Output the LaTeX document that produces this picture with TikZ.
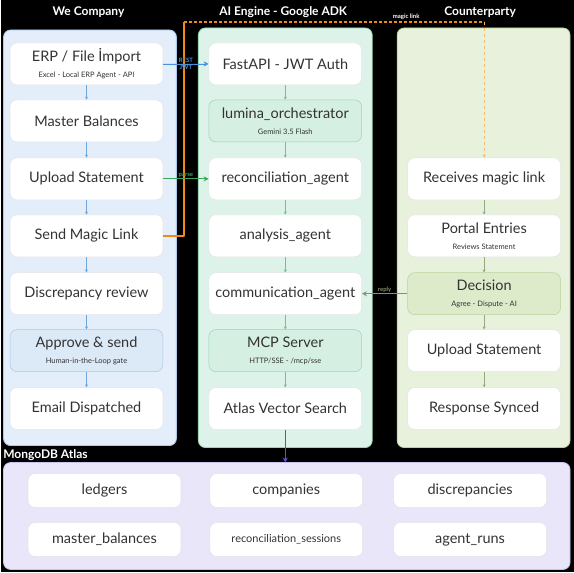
\documentclass[tikz,border=0pt]{standalone}
\usepackage{fontspec}
\setmainfont{Lato}
\usetikzlibrary{positioning,arrows.meta}

\definecolor{bluelane}{HTML}{E3EEFA}
\definecolor{blueedge}{HTML}{A9C8EA}
\definecolor{bluebox}{HTML}{DCE9F7}
\definecolor{greenlane}{HTML}{DDF2E8}
\definecolor{greenedge}{HTML}{9BD3B5}
\definecolor{greenbox}{HTML}{D5EFE2}
\definecolor{limelane}{HTML}{E8F1DB}
\definecolor{limeedge}{HTML}{B9D39C}
\definecolor{limebox}{HTML}{DDEBCB}
\definecolor{lilaclane}{HTML}{E8E6F8}
\definecolor{lilacedge}{HTML}{C9C4EE}
\definecolor{linkorange}{HTML}{F08A10}
\definecolor{apiblue}{HTML}{4A90D9}
\definecolor{apigreen}{HTML}{3BA55C}
\definecolor{dbpurple}{HTML}{6A4BD8}

\newcommand{\subline}[1]{\\[0pt]{\fontsize{7.5}{9}\selectfont #1}}

\begin{document}
\begin{tikzpicture}[x=1pt,y=-1pt,
  lane/.style={rounded corners=7pt, line width=0.8pt},
  box/.style={draw=#1, fill=white, rounded corners=7pt, line width=0.5pt,
    minimum width=153pt, minimum height=42pt, align=center,
    font=\fontsize{14.5}{16}\selectfont, text=black!80},
  box/.default=gray!20,
  dbbox/.style={box, minimum width=153pt, minimum height=34pt},
  lanetitle/.style={text=white, font=\bfseries\fontsize{12}{13}\selectfont},
  tinylabel/.style={font=\bfseries\fontsize{6}{7}\selectfont, inner sep=1pt},
  flow/.style={-{Stealth[length=3pt,width=3pt]}, line width=0.4pt, draw=#1},
  link/.style={-{Stealth[length=5pt,width=5pt]}, line width=1.4pt, draw=#1, fill=#1},
  magic/.style={draw=linkorange, line width=2pt, line join=round},
  ]
  % background and lanes
  \fill[black] (0,0) rectangle (574,573);
  \filldraw[lane, fill=bluelane, draw=blueedge] (3,30) rectangle (176,446);
  \filldraw[lane, fill=greenlane, draw=greenedge] (198,28) rectangle (372,448);
  \filldraw[lane, fill=limelane, draw=limeedge] (397,28) rectangle (570,448);
  \filldraw[lane, fill=lilaclane, draw=lilacedge] (3,463) rectangle (570,570);

  \node[lanetitle] (tcompany) at (88,12) {We Company};
  \node[lanetitle] (tengine) at (283,12) {AI Engine - Google ADK};
  \node[lanetitle] (tparty) at (480,12) {Counterparty};
  \node[lanetitle] (tatlas) at (45,456) {MongoDB Atlas};

  \coordinate (linkbend) at (184,236);
  \coordinate (linkup) at (184,22);
  \coordinate (linkdown) at (484,22);

  % we company
  \node[box] (erp) at (86,64) {ERP / File İmport\subline{Excel - Local ERP Agent - API}};
  \node[box] (master) at (86,121) {Master Balances};
  \node[box] (upload) at (86,179) {Upload Statement};
  \node[box] (send) at (86,236) {Send Magic Link};
  \node[box] (review) at (86,294) {Discrepancy review};
  \node[box=blueedge, fill=bluebox] (approve) at (86,351) {Approve \& send\subline{Human-in-the-Loop gate}};
  \node[box] (email) at (86,409) {Email Dispatched};

  % ai engine
  \node[box] (fastapi) at (285,64) {FastAPI - JWT Auth};
  \node[box=greenedge, fill=greenbox] (orch) at (285,121) {lumina\_orchestrator\subline{Gemini 3.5 Flash}};
  \node[box] (recon) at (285,179) {reconciliation\_agent};
  \node[box] (analysis) at (285,236) {analysis\_agent};
  \node[box] (comm) at (285,294) {communication\_agent};
  \node[box=greenedge, fill=greenbox] (mcp) at (285,351) {MCP Server\subline{HTTP/SSE - /mcp/sse}};
  \node[box] (vector) at (285,409) {Atlas Vector Search};

  % counterparty
  \node[box] (receive) at (484,179) {Receives magic link};
  \node[box] (portal) at (484,236) {Portal Entries\subline{Reviews Statement}};
  \node[box=limeedge, fill=limebox] (decision) at (484,294) {Decision\subline{Agree - Dispute - AI}};
  \node[box] (reupload) at (484,351) {Upload Statement};
  \node[box] (synced) at (484,409) {Response Synced};

  % atlas collections
  \node[dbbox] (ledgers) at (104,491) {ledgers};
  \node[dbbox] (companies) at (286,491) {companies};
  \node[dbbox] (discrep) at (470,491) {discrepancies};
  \node[dbbox] (balances) at (104,540) {master\_balances};
  \node[dbbox, font=\fontsize{11}{12}\selectfont] (sessions) at (286,540) {reconciliation\_sessions};
  \node[dbbox] (runs) at (470,540) {agent\_runs};

  % lane flows
  \foreach \a/\b in {erp/master, master/upload, upload/send, send/review, review/approve, approve/email}
    \draw[flow=apiblue!80] (\a) -- (\b);
  \foreach \a/\b in {fastapi/orch, orch/recon, recon/analysis, analysis/comm, comm/mcp, mcp/vector}
    \draw[flow=apigreen!70] (\a) -- (\b);
  \foreach \a/\b in {receive/portal, portal/decision, decision/reupload, reupload/synced}
    \draw[flow=limeedge!80!black] (\a) -- (\b);

  % cross-lane links
  \draw[magic] (send.east) -- (linkbend) -- (linkup);
  \draw[magic, dash pattern=on 3pt off 2pt] (linkup) -- node[tinylabel, above, pos=0.74, text=white] {magic link} (linkdown);
  \draw[flow=linkorange!60, dashed] (linkdown) -- (receive);
  \draw[link=apiblue, line width=0.8pt] (erp) -- node[tinylabel, above, text=apiblue] {REST} node[tinylabel, below, text=apiblue] {JWT} (fastapi);
  \draw[link=apigreen, line width=1pt] (upload) -- node[tinylabel, above, text=apigreen] {parse} (recon);
  \draw[link=limeedge!70!black] (decision) -- node[tinylabel, above, text=limeedge!70!black] {reply} (comm);
  \draw[link=dbpurple, line width=1pt] (vector) -- (vector |- 0,463);
\end{tikzpicture}
\end{document}
